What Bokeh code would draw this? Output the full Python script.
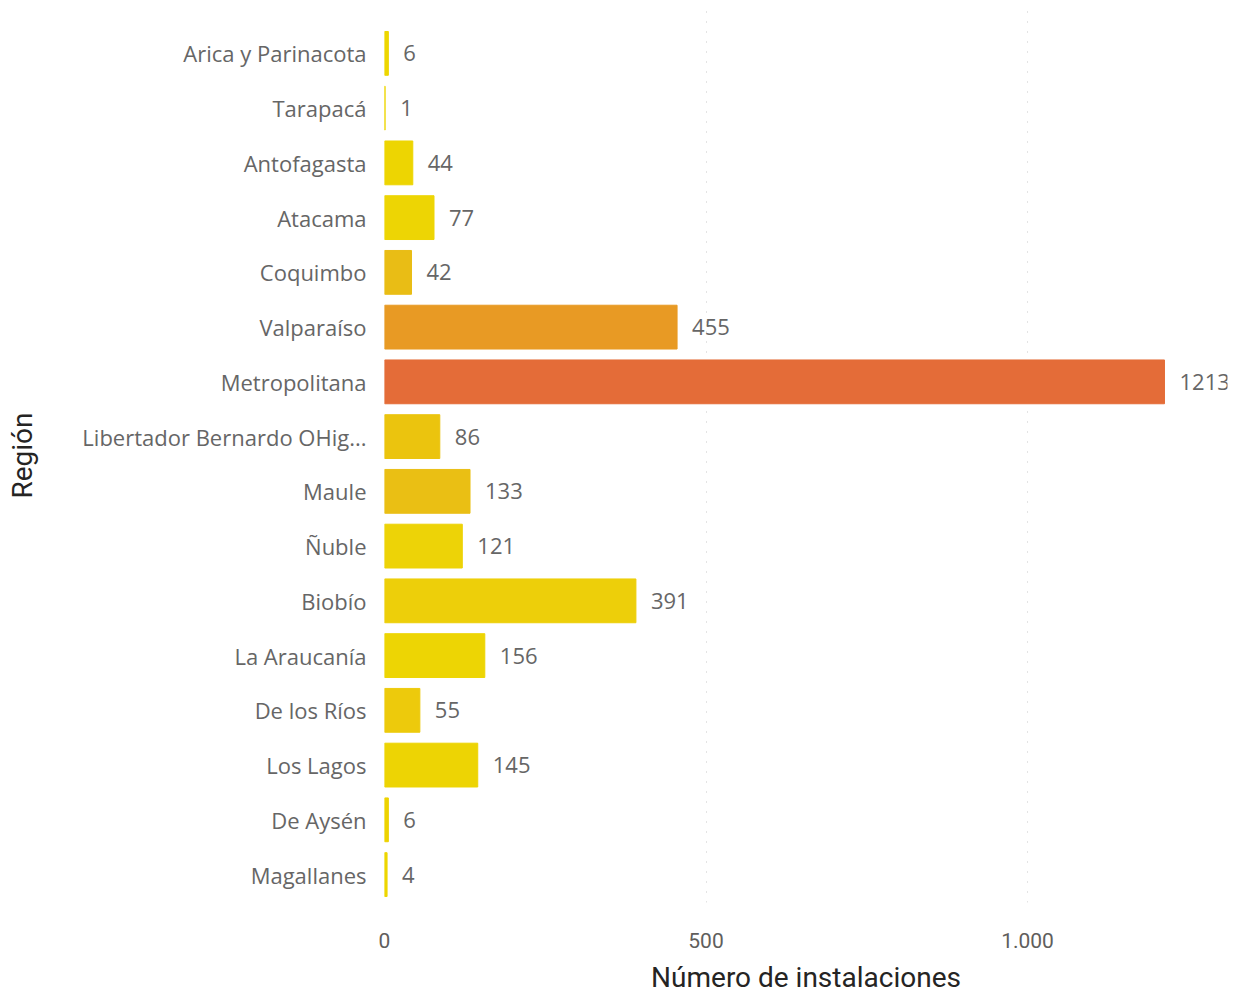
import numpy as np
from bokeh.plotting import figure
from bokeh.models import ColumnDataSource, Range1d, FixedTicker
from bokeh.core.properties import value
from bokeh.embed import file_html
from bokeh.resources import INLINE

regions = ["Arica y Parinacota", "Tarapacá", "Antofagasta", "Atacama", "Coquimbo",
           "Valparaíso", "Metropolitana", "Libertador Bernardo OHig...", "Maule", "Ñuble",
           "Biobío", "La Araucanía", "De los Ríos", "Los Lagos", "De Aysén", "Magallanes"]
counts = [6, 1, 44, 77, 42, 455, 1213, 86, 133, 121, 391, 156, 55, 145, 6, 4]
colors = ["#EDD600", "#EDD600", "#EDD502", "#EDD504", "#E9BD15", "#E89A24", "#E46C38",
          "#EBC40E", "#EABF14", "#EDD307", "#EDCF0A", "#EDD504", "#EDCA0C", "#EDD404",
          "#EDD300", "#EDD600"]
x_ticks = [0, 500, 1000]
x_tick_labels = ["0", "500", "1.000"]

n = len(regions)
ypos = list(np.arange(n)[::-1].astype(float))
src = ColumnDataSource(dict(y=ypos, v=counts, c=colors, lab=[str(c) for c in counts]))

p = figure(width=1237, height=996, output_backend="svg", toolbar_location=None,
           x_range=Range1d(0, 1311), y_range=Range1d(-0.51, n - 1 + 0.82),
           min_border_left=384, min_border_right=10, min_border_top=8, min_border_bottom=80)
p.outline_line_color = None
p.background_fill_color = "white"
p.border_fill_color = "white"

p.hbar(y="y", right="v", left=0, height=0.8, color="c", source=src)
p.text(x="v", y="y", text="lab", source=src, x_offset=15, text_baseline="middle",
       text_align="left", text_font=value("Open Sans"), text_font_size="22px",
       text_color="#666666")

# x axis
p.xaxis.ticker = FixedTicker(ticks=x_ticks)
p.xaxis.major_label_overrides = {t: l for t, l in zip(x_ticks, x_tick_labels)}
p.xaxis.axis_line_color = None
p.xaxis.major_tick_line_color = None
p.xaxis.minor_tick_line_color = None
p.xaxis.major_label_standoff = 24
p.xaxis.major_label_text_font = "Roboto"
p.xaxis.major_label_text_font_size = "21px"
p.xaxis.major_label_text_color = "#605E5C"
p.xaxis.axis_label = "Número de instalaciones"
p.xaxis.axis_label_text_font = "Roboto"
p.xaxis.axis_label_text_font_style = "normal"
p.xaxis.axis_label_text_font_size = "28px"
p.xaxis.axis_label_text_color = "#252423"
p.xaxis.axis_label_standoff = 10

# y axis
p.yaxis.ticker = FixedTicker(ticks=ypos)
p.yaxis.major_label_overrides = {y: r for y, r in zip(ypos, regions)}
p.yaxis.axis_line_color = None
p.yaxis.major_tick_line_color = None
p.yaxis.minor_tick_line_color = None
p.yaxis.major_label_standoff = 12
p.yaxis.major_label_text_font = "Open Sans"
p.yaxis.major_label_text_font_size = "22px"
p.yaxis.major_label_text_color = "#666666"
p.yaxis.axis_label = "Región"
p.yaxis.axis_label_text_font = "Roboto"
p.yaxis.axis_label_text_font_style = "normal"
p.yaxis.axis_label_text_font_size = "28px"
p.yaxis.axis_label_text_color = "#252423"
p.yaxis.axis_label_standoff = 40

p.ygrid.grid_line_color = None
p.xgrid.ticker = FixedTicker(ticks=x_ticks)
p.xgrid.grid_line_color = "#C8C8C8"
p.xgrid.grid_line_dash = "1 9"
p.xgrid.grid_line_width = 1

open("out.html", "w").write(file_html(p, INLINE))
